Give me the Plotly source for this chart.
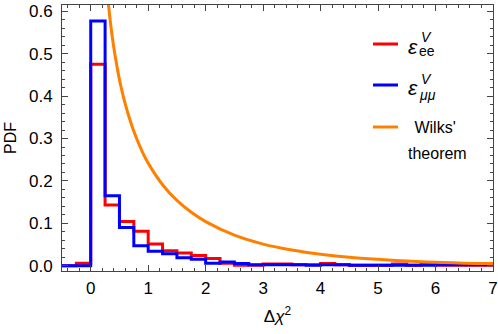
import plotly.graph_objects as go

# Histogram bin edges (left edges, width 0.25) from -0.5 to 7.0
bin_edges = [-0.5 + 0.25 * i for i in range(31)]

pdf_ee = [0.0, 0.006, 0.475, 0.143, 0.104, 0.081, 0.051, 0.035, 0.030, 0.024,
          0.017, 0.006, 0.001, 0.001, 0.004, 0.004, 0.002, 0.002, 0.005, 0.002,
          0.001, 0.001, 0.001, 0.004, 0.001, 0.004, 0.001, 0.001, 0.001, 0.001]

pdf_mumu = [0.0, 0.0, 0.577, 0.165, 0.090, 0.047, 0.034, 0.028, 0.019, 0.015,
            0.006, 0.009, 0.005, 0.002, 0.002, 0.002, 0.002, 0.001, 0.002, 0.002,
            0.001, 0.001, 0.001, 0.001, 0.001, 0.001, 0.002, 0.002, 0.002, 0.002]

# Wilks' theorem curve
wilks_x = [0.30, 0.35, 0.40, 0.45, 0.50, 0.60, 0.75, 0.90, 1.00, 1.25, 1.50, 1.75,
           2.00, 2.50, 3.00, 3.50, 4.00, 4.50, 5.00, 5.50, 6.00, 6.50, 7.00]
wilks_y = [0.627, 0.566, 0.516, 0.475, 0.439, 0.382, 0.317, 0.268, 0.242, 0.191,
           0.154, 0.126, 0.104, 0.072, 0.051, 0.037, 0.027, 0.020, 0.015, 0.011,
           0.008, 0.006, 0.005]

x_ticks = [0, 1, 2, 3, 4, 5, 6, 7]
y_ticks = [0.0, 0.1, 0.2, 0.3, 0.4, 0.5, 0.6]

RED = "#FF0000"
BLUE = "#0000FF"
ORANGE = "#FF8000"
FONT = "Liberation Sans, Arial, sans-serif"

fig = go.Figure()
fig.add_trace(go.Scatter(x=bin_edges, y=pdf_ee + [pdf_ee[-1]], mode="lines",
                         line=dict(color=RED, width=3, shape="hv"), name="ee",
                         showlegend=False))
fig.add_trace(go.Scatter(x=bin_edges, y=pdf_mumu + [pdf_mumu[-1]], mode="lines",
                         line=dict(color=BLUE, width=3, shape="hv"), name="mumu",
                         showlegend=False))
fig.add_trace(go.Scatter(x=wilks_x, y=wilks_y, mode="lines",
                         line=dict(color=ORANGE, width=3, shape="spline"),
                         name="Wilks", showlegend=False))

W, H = 498, 334
ml, mr, mt, mb = 62, 5, 5, 63
pw, ph = W - ml - mr, H - mt - mb

def px(xp):
    return (xp - ml) / pw

def py(yp):
    return (H - mb - yp) / ph

# manual legend
legend_items = [(RED, 44), (BLUE, 85), (ORANGE, 127)]
for col, yy in legend_items:
    fig.add_shape(type="line", xref="paper", yref="paper",
                  x0=px(373), x1=px(398), y0=py(yy), y1=py(yy),
                  line=dict(color=col, width=3))

def ann(text, x, y, size, xanchor="left", italic=False):
    fig.add_annotation(text=(f"<i>{text}</i>" if italic else text), xref="paper", yref="paper",
                       x=px(x), y=py(y), xanchor=xanchor, yanchor="middle",
                       showarrow=False, font=dict(size=size, color="black", family=FONT))

ann("ε", 406, 46, 21, italic=True)
ann("V", 419, 37, 14, italic=True)
ann("ee", 417, 51, 14)
ann("ε", 406, 88, 21, italic=True)
ann("V", 419, 79, 14, italic=True)
ann("μμ", 417, 95, 14, italic=True)
ann(" Wilks'", 408, 127, 16)
ann("theorem", 406, 153, 16)

axis_common = dict(showline=True, linecolor="#444", linewidth=1, mirror="ticks",
                   ticks="inside", ticklen=6, tickcolor="#444", showgrid=False,
                   zeroline=False, automargin=False,
                   tickfont=dict(size=17, color="black", family=FONT))

fig.update_xaxes(range=[-0.5, 7.001], tickvals=x_ticks, ticktext=[str(v) for v in x_ticks],
                 minor=dict(dtick=0.2, tick0=0, ticks="inside", ticklen=3, tickcolor="#444"),
                 title=dict(text="Δ<i>χ</i><sup>2</sup>", font=dict(size=17, color="black", family=FONT),
                            standoff=12),
                 ticklabelstandoff=2,
                 **axis_common)
fig.update_yaxes(range=[-0.0125, 0.615], tickvals=y_ticks, ticktext=[f"{v:.1f}" for v in y_ticks],
                 minor=dict(dtick=0.02, tick0=0, ticks="inside", ticklen=3, tickcolor="#444"),
                 title=dict(text="PDF", font=dict(size=16, color="black", family=FONT), standoff=8),
                 ticklabelstandoff=5,
                 **axis_common)

fig.update_layout(width=W, height=H, margin=dict(l=ml, r=mr, t=mt, b=mb),
                  plot_bgcolor="white", paper_bgcolor="white", showlegend=False)

fig.write_html("out.html", config={"displayModeBar": False},
               post_script="document.body.style.margin='0';")
